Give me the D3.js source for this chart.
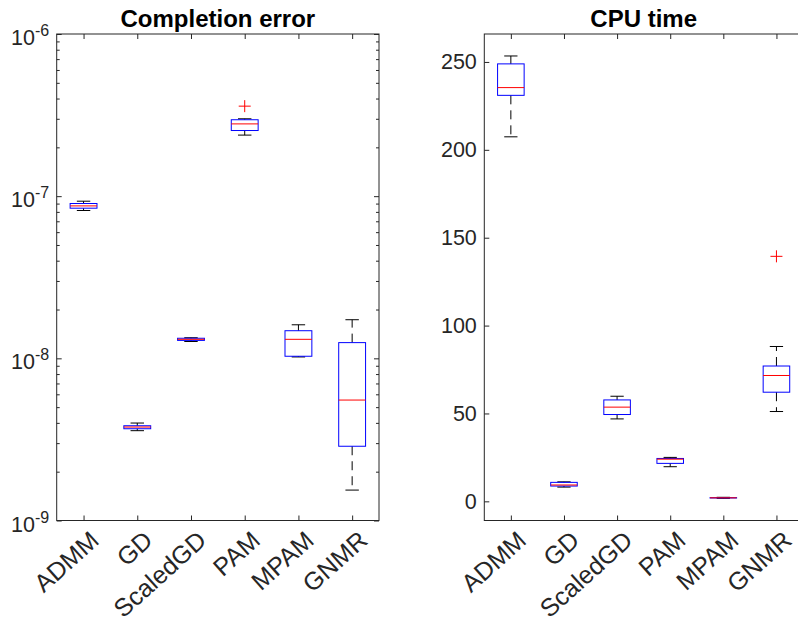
<!DOCTYPE html>
<html><head><meta charset="utf-8">
<script src="https://cdn.jsdelivr.net/npm/d3@7"></script>
<style>body{margin:0;background:#fff}</style>
</head><body><svg id="c" width="798" height="623" xmlns="http://www.w3.org/2000/svg"></svg>
<script>
const categories = ["ADMM","GD","ScaledGD","PAM","MPAM","GNMR"];
// Completion error (log scale)
const errWhiskerLow  = [8.16e-8, 3.58e-9, 1.27e-8, 2.38e-7, 1.02e-8, 1.54e-9];
const errQ1          = [8.43e-8, 3.68e-9, 1.29e-8, 2.54e-7, 1.03e-8, 2.87e-9];
const errMedian      = [8.71e-8, 3.77e-9, 1.31e-8, 2.79e-7, 1.31e-8, 5.53e-9];
const errQ3          = [9.01e-8, 3.84e-9, 1.33e-8, 2.96e-7, 1.48e-8, 1.25e-8];
const errWhiskerHigh = [9.31e-8, 3.99e-9, 1.34e-8, 3.00e-7, 1.61e-8, 1.73e-8];
const errOutliers    = [[], [], [], [3.59e-7], [], []];
const errTicks = [1e-9, 1e-8, 1e-7, 1e-6];
const errTickExp = ["-9", "-8", "-7", "-6"];
// CPU time
const cpuWhiskerLow  = [207.4, 8.1, 46.9, 19.7, 1.7, 51.1];
const cpuQ1          = [231.0, 8.7, 49.4, 21.6, 1.9, 62.1];
const cpuMedian      = [235.4, 9.3, 53.6, 24.0, 2.0, 71.6];
const cpuQ3          = [248.9, 10.8, 57.7, 24.4, 2.1, 77.0];
const cpuWhiskerHigh = [253.4, 11.1, 59.8, 25.0, 2.3, 88.1];
const cpuOutliers    = [[], [], [], [], [], [139.4]];
const cpuTicks = [0, 50, 100, 150, 200, 250];

const svg = d3.select("#c");
const AX = "#262626";
const FONT = "'Liberation Sans', Arial, Helvetica, sans-serif";

function panel(opt) {
  const {x0, x1, y0, y1, y, title, lo, q1, med, q3, hi, outs, log} = opt;
  const x = d3.scalePoint().domain(categories).range([x0, x1]).padding(0.5);
  const step = x.step();
  const g = svg.append("g");

  // frame
  g.append("rect").attr("x", x0).attr("y", y0).attr("width", x1 - x0).attr("height", y1 - y0)
    .attr("fill", "none").attr("stroke", AX).attr("stroke-width", 1);

  // x ticks (bottom & top, inward)
  const bx = d3.axisBottom(x).tickSize(-5).tickFormat("");
  const tx = d3.axisTop(x).tickSize(-5).tickFormat("");
  [[bx, y1], [tx, y0]].forEach(([a, yy]) => {
    const ag = g.append("g").attr("transform", `translate(0,${yy})`).call(a);
    ag.select(".domain").remove();
    ag.selectAll("line").attr("stroke", AX);
  });

  // y ticks
  if (log) {
    const minor = y.ticks().filter(v => !opt.ticks.some(t => Math.abs(t - v) / t < 1e-6));
    [[d3.axisLeft, x0], [d3.axisRight, x1]].forEach(([f, xx]) => {
      const a1 = g.append("g").attr("transform", `translate(${xx},0)`).call(f(y).tickValues(opt.ticks).tickSize(-5).tickFormat(""));
      a1.select(".domain").remove(); a1.selectAll("line").attr("stroke", AX);
      const a2 = g.append("g").attr("transform", `translate(${xx},0)`).call(f(y).tickValues(minor).tickSize(-3).tickFormat(""));
      a2.select(".domain").remove(); a2.selectAll("line").attr("stroke", AX);
    });
    opt.ticks.forEach((t, i) => {
      const tt = g.append("text").attr("x", x0 - 7.5).attr("y", y(t) + 11)
        .attr("text-anchor", "end").attr("fill", AX).attr("font-family", FONT).attr("font-size", 21.5);
      tt.append("tspan").text("10");
      tt.append("tspan").attr("dy", -9).attr("font-size", 16).text(opt.exps[i]);
    });
  } else {
    [[d3.axisLeft, x0], [d3.axisRight, x1]].forEach(([f, xx]) => {
      const a1 = g.append("g").attr("transform", `translate(${xx},0)`).call(f(y).tickValues(opt.ticks).tickSize(-5).tickFormat(""));
      a1.select(".domain").remove(); a1.selectAll("line").attr("stroke", AX);
    });
    opt.ticks.forEach(t => {
      g.append("text").attr("x", x0 - 7.5).attr("y", y(t) + 7.5)
        .attr("text-anchor", "end").attr("fill", AX).attr("font-family", FONT).attr("font-size", 21.5).text(t);
    });
  }

  // x labels rotated
  categories.forEach(c => {
    g.append("text").attr("transform", `translate(${x(c) + 17},${y1 + 22}) rotate(-42)`)
      .attr("text-anchor", "end").attr("fill", AX).attr("font-family", FONT).attr("font-size", 25).text(c);
  });

  // title
  g.append("text").attr("x", (x0 + x1) / 2).attr("y", 27).attr("text-anchor", "middle")
    .attr("font-family", FONT).attr("font-weight", "bold").attr("font-size", 24).attr("fill", "#000").text(title);

  // boxes
  const bw = step * 0.5, cw = step * 0.25;
  categories.forEach((c, i) => {
    const cx = x(c);
    // whiskers
    g.append("line").attr("x1", cx).attr("x2", cx).attr("y1", y(q3[i])).attr("y2", y(hi[i]))
      .attr("stroke", "#000").attr("stroke-dasharray", "9,6");
    g.append("line").attr("x1", cx).attr("x2", cx).attr("y1", y(q1[i])).attr("y2", y(lo[i]))
      .attr("stroke", "#000").attr("stroke-dasharray", "9,6");
    [hi[i], lo[i]].forEach(v => g.append("line").attr("x1", cx - cw / 2).attr("x2", cx + cw / 2)
      .attr("y1", y(v)).attr("y2", y(v)).attr("stroke", "#000"));
    // box
    g.append("rect").attr("x", cx - bw / 2).attr("width", bw)
      .attr("y", y(q3[i])).attr("height", Math.max(0, y(q1[i]) - y(q3[i])))
      .attr("fill", "none").attr("stroke", "#0000ff");
    // median
    g.append("line").attr("x1", cx - bw / 2).attr("x2", cx + bw / 2)
      .attr("y1", y(med[i])).attr("y2", y(med[i])).attr("stroke", "#ff0000");
    // outliers
    outs[i].forEach(v => {
      g.append("path").attr("d", `M${cx - 6},${y(v)}H${cx + 6}M${cx},${y(v) - 6}V${y(v) + 6}`)
        .attr("stroke", "#ff0000").attr("fill", "none");
    });
  });
}

const yErr = d3.scaleLog().domain([1e-9, 1e-6]).range([520.5, 34]);
panel({x0: 56.7, x1: 379, y0: 34, y1: 520.5, y: yErr, title: "Completion error",
  lo: errWhiskerLow, q1: errQ1, med: errMedian, q3: errQ3, hi: errWhiskerHigh, outs: errOutliers,
  log: true, ticks: errTicks, exps: errTickExp});

const yCpu = d3.scaleLinear().domain([-10.9, 265.9]).range([520.5, 34]);
panel({x0: 484.3, x1: 803, y0: 34, y1: 520.5, y: yCpu, title: "CPU time",
  lo: cpuWhiskerLow, q1: cpuQ1, med: cpuMedian, q3: cpuQ3, hi: cpuWhiskerHigh, outs: cpuOutliers,
  log: false, ticks: cpuTicks});
</script></body></html>
